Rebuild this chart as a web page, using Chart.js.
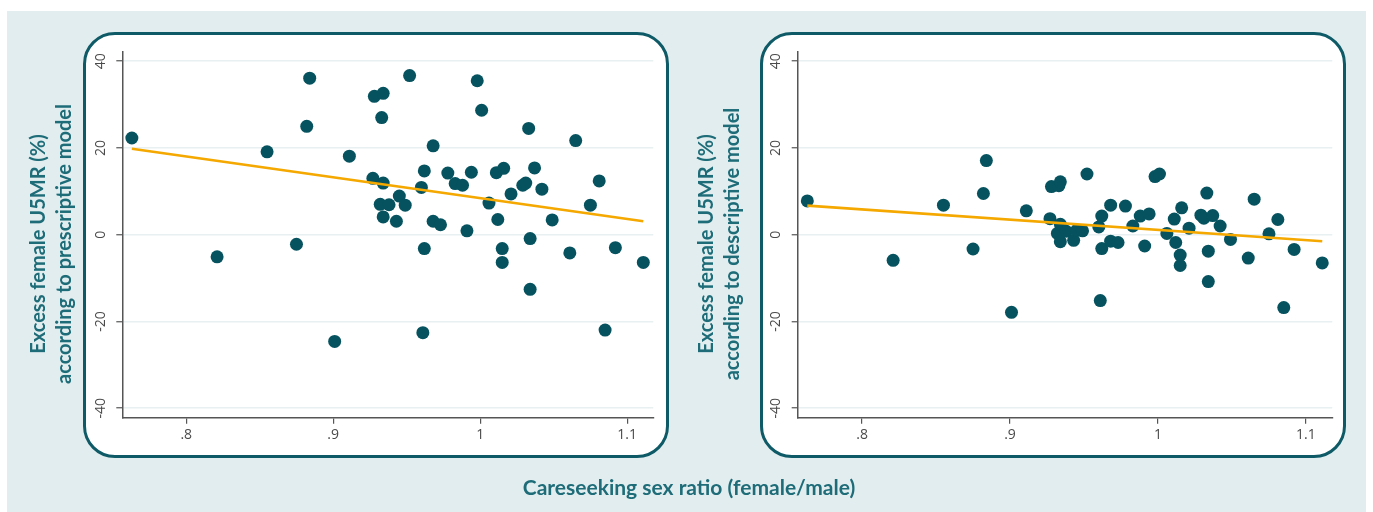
<!DOCTYPE html>
<html>
<head>
<meta charset="utf-8">
<script src="https://cdn.jsdelivr.net/npm/chart.js@4.4.1/dist/chart.umd.min.js"></script>
<style>
html, body { margin: 0; padding: 0; background: #ffffff; }
#wrap { position: relative; width: 1373px; height: 512px; overflow: hidden; background: #ffffff; }
#bg { position: absolute; left: 7px; top: 11px; width: 1359px; height: 501px; background: #e1edef; }
.panel { position: absolute; top: 32px; width: 586px; height: 426px; box-sizing: border-box;
         background: #ffffff; border: 3px solid #0e5a66; border-radius: 32px; }
canvas { position: absolute; top: 0; }
.yt { position: absolute; width: 420px; height: 52px; line-height: 26px; text-align: center;
      font-family: Lato, "Open Sans", sans-serif; font-weight: bold; font-size: 20px; color: #1d6c78;
      transform: rotate(-90deg); transform-origin: 50% 50%; white-space: nowrap; }
.xt { position: absolute; width: 500px; height: 26px; line-height: 26px; text-align: center;
      font-family: Lato, "Open Sans", sans-serif; font-weight: bold; font-size: 21px; color: #1d6c78; white-space: nowrap; }
</style>
</head>
<body>
<div id="wrap">
  <div id="bg"></div>
  <div class="panel" style="left:83px;"></div>
  <div class="panel" style="left:760px;"></div>
  <canvas id="c1" width="686" height="512" style="left:0px;width:686px;height:512px;"></canvas>
  <canvas id="c2" width="687" height="512" style="left:686px;width:687px;height:512px;"></canvas>
  <div class="yt" style="left:-160px;top:218px;">Excess female U5MR (%)<br>according to prescriptive model</div>
  <div class="yt" style="left:507.5px;top:218px;">Excess female U5MR (%)<br>according to descriptive model</div>
  <div class="xt" style="left:439px;top:474px;">Careseeking sex ratio (female/male)</div>
</div>
<script>
// ---- data ----
const xTicks = [0.8, 0.9, 1.0, 1.1];
const yTicks = [-40, -20, 0, 20, 40];

const sexRatio = [0.763, 0.821, 0.855, 0.875, 0.882, 0.884, 0.901, 0.911, 0.927, 0.928,
                  0.932, 0.933, 0.934, 0.934, 0.934, 0.938, 0.943, 0.945, 0.949, 0.952,
                  0.960, 0.961, 0.962, 0.962, 0.968, 0.968, 0.973, 0.978, 0.983, 0.988,
                  0.991, 0.994, 0.998, 1.001, 1.006, 1.011, 1.012, 1.015, 1.015, 1.016,
                  1.021, 1.029, 1.031, 1.033, 1.034, 1.034, 1.037, 1.042, 1.049, 1.061,
                  1.065, 1.075, 1.081, 1.085, 1.092, 1.111];

const excessPrescriptive = [22.3, -5.1, 19.1, -2.2, 25.0, 36.1, -24.6, 18.1, 13.0, 31.9,
                            7.0, 27.0, 11.9, 4.1, 32.6, 6.9, 3.1, 8.9, 6.8, 36.7,
                            10.9, -22.6, 14.7, -3.2, 20.5, 3.1, 2.3, 14.2, 11.8, 11.4,
                            0.9, 14.4, 35.5, 28.7, 7.3, 14.3, 3.5, -3.2, -6.4, 15.3,
                            9.4, 11.4, 11.9, 24.5, -12.6, -0.9, 15.4, 10.5, 3.4, -4.2,
                            21.7, 6.8, 12.4, -22.0, -3.0, -6.4];

const excessDescriptive = [7.8, -5.9, 6.8, -3.3, 9.5, 17.1, -17.9, 5.5, 3.7, 11.1,
                           0.3, 11.3, 2.4, -1.6, 12.2, 0.8, -1.3, 1.0, 0.9, 14.0,
                           1.8, -15.2, 4.3, -3.2, 6.8, -1.5, -1.8, 6.6, 2.0, 4.3,
                           -2.6, 4.8, 13.4, 14.0, 0.3, 3.6, -1.8, -4.7, -7.1, 6.2,
                           1.5, 4.5, 3.8, 9.6, -10.8, -3.8, 4.4, 2.0, -1.1, -5.4,
                           8.2, 0.2, 3.5, -16.8, -3.4, -6.5];

const fitX = [0.763, 1.111];
const fitPrescriptive = [19.8, 3.1];
const fitDescriptive = [6.7, -1.5];

// ---- chart builder ----
const POINT = '#06535f';
const FIT = '#f4a800';
const AXIS = '#555555';
const GRID = '#e8f0f2';
const TICKTXT = '#4a4a4a';

function fmtX(v) {
  if (Math.abs(v - 1) < 1e-9) return '1';
  let s = (Math.round(v * 10) / 10).toFixed(1);
  return s.replace(/^0/, '');
}

function makeChart(id, yVals, fitVals, yWidth, padRight) {
  const scatter = sexRatio.map((x, i) => ({ x: x, y: yVals[i] }));
  const fit = fitX.map((x, i) => ({ x: x, y: fitVals[i] }));
  return new Chart(document.getElementById(id), {
    type: 'scatter',
    data: {
      datasets: [
        { type: 'line', data: fit, borderColor: FIT, borderWidth: 2.6, pointRadius: 0,
          fill: false, showLine: true, tension: 0 },
        { type: 'scatter', data: scatter, backgroundColor: POINT, borderWidth: 0,
          pointRadius: 6.5, pointHoverRadius: 6.5 }
      ]
    },
    options: {
      responsive: false,
      animation: false,
      devicePixelRatio: 1,
      layout: { padding: { left: 0, top: 51.7, right: padRight, bottom: 0 } },
      plugins: { legend: { display: false }, tooltip: { enabled: false } },
      scales: {
        x: {
          type: 'linear', min: 0.7565, max: 1.1178,
          afterBuildTicks: a => { a.ticks = xTicks.map(v => ({ value: v })); },
          afterFit: a => { a.height = 94.3; },
          grid: { display: true, drawOnChartArea: false, drawTicks: true, tickLength: 6,
                  color: AXIS, lineWidth: 1.2 },
          border: { display: true, color: AXIS, width: 1.5 },
          ticks: { callback: v => fmtX(v), color: TICKTXT, autoSkip: false, maxRotation: 0,
                   padding: 3, font: { family: 'Open Sans', size: 14 } }
        },
        y: {
          type: 'linear', min: -42.2, max: 42.2,
          afterBuildTicks: a => { a.ticks = yTicks.map(v => ({ value: v })); },
          afterFit: a => { a.width = yWidth; },
          grid: { display: true, drawOnChartArea: true, drawTicks: true, tickLength: 6,
                  color: GRID, lineWidth: 1.5, tickColor: AXIS, tickWidth: 1.2 },
          border: { display: true, color: AXIS, width: 1.5 },
          ticks: { color: TICKTXT, minRotation: 90, maxRotation: 90, crossAlign: 'center',
                   padding: 5, font: { family: 'Open Sans', size: 14 } }
        }
      }
    }
  });
}

makeChart('c1', excessPrescriptive, fitPrescriptive, 122.3, 32.7);
makeChart('c2', excessDescriptive, fitDescriptive, 111.7, 40.7);
</script>
</body>
</html>
